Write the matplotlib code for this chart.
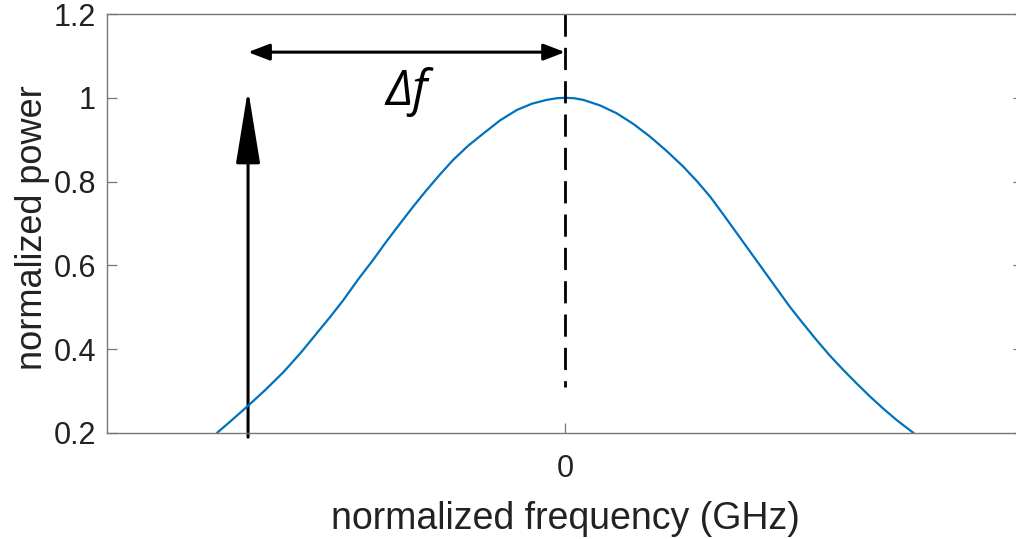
import matplotlib
matplotlib.use("Agg")
import matplotlib.pyplot as plt
from matplotlib.patches import FancyArrowPatch

plt.rcParams['font.family'] = ['Liberation Sans', 'DejaVu Sans']
plt.rcParams['lines.scale_dashes'] = False

# Normalized spectrum: frequency offset vs. normalized power
freq = [-0.760, -0.725, -0.692, -0.655, -0.615, -0.578, -0.542, -0.512,
        -0.484, -0.452, -0.419, -0.390, -0.360, -0.331, -0.302, -0.273,
        -0.244, -0.211, -0.178, -0.142, -0.105, -0.072, -0.040, -0.018,
        0.0, 0.020, 0.040, 0.076, 0.113, 0.150, 0.186, 0.222, 0.258,
        0.288, 0.317, 0.346, 0.375, 0.404, 0.433, 0.462, 0.491, 0.520,
        0.549, 0.578, 0.608, 0.637, 0.666, 0.695, 0.724, 0.743, 0.761]
power = [0.200, 0.233, 0.265, 0.302, 0.345, 0.390, 0.438, 0.478,
         0.517, 0.566, 0.613, 0.657, 0.700, 0.741, 0.780, 0.817,
         0.852, 0.886, 0.915, 0.946, 0.971, 0.986, 0.995, 0.999,
         1.000, 0.999, 0.995, 0.982, 0.963, 0.937, 0.907, 0.873, 0.836,
         0.801, 0.764, 0.721, 0.677, 0.633, 0.589, 0.545, 0.501, 0.461,
         0.422, 0.385, 0.350, 0.318, 0.287, 0.258, 0.231, 0.215, 0.200]

x_ticks = [0]
x_tick_labels = ['0']
y_ticks = [0.2, 0.4, 0.6, 0.8, 1.0, 1.2]
y_tick_labels = ['0.2', '0.4', '0.6', '0.8', '1', '1.2']

# Annotation geometry (data units)
carrier_x = -0.692       # position of the single carrier line
carrier_top = 1.02
center_x = 0.0           # spectrum centre
delta_y = 1.109          # height of the frequency-offset arrow
dash_bottom = 0.31

fig = plt.figure(figsize=(10.16, 5.39), dpi=100)
ax = fig.add_axes([0.1053, 0.1967, 0.9016, 0.7773])

ax.plot(freq, power, color='#0072BD', lw=1.6, solid_capstyle='round',
        solid_joinstyle='round')

ax.set_xlim(-1.0, 1.0)
ax.set_ylim(0.2, 1.2)
ax.set_xticks(x_ticks)
ax.set_xticklabels(x_tick_labels)
ax.set_yticks(y_ticks)
ax.set_yticklabels(y_tick_labels)

spine_col = '#777777'
for s in ax.spines.values():
    s.set_color(spine_col)
    s.set_linewidth(1.0)

ax.tick_params(axis='both', direction='in', length=7, width=0.9,
               color=spine_col, labelcolor='#222222', labelsize=22,
               top=True, right=True)
ax.tick_params(axis='x', pad=15)
ax.tick_params(axis='y', pad=8)

ax.set_xlabel('normalized frequency (GHz)', fontsize=27, color='#222222')
ax.set_ylabel('normalized power', fontsize=26, color='#222222')
ax.xaxis.set_label_coords(0.5, -0.163)
ax.yaxis.set_label_coords(-0.062, 0.49)

# Dashed marker at the spectrum centre
ax.plot([center_x, center_x], [1.2, dash_bottom], color='black', lw=2.0,
        dashes=(16, 8), dash_capstyle='butt', clip_on=False)

# Carrier arrow
carrier = FancyArrowPatch((carrier_x, 0.19), (carrier_x, carrier_top),
                          arrowstyle='-|>,head_length=46,head_width=7.5',
                          mutation_scale=1, lw=2.2, color='black',
                          shrinkA=0, shrinkB=0, clip_on=False)
ax.add_patch(carrier)

# Frequency offset arrow
offset = FancyArrowPatch((carrier_x, delta_y), (center_x, delta_y),
                         arrowstyle='<|-|>,head_length=13,head_width=5',
                         mutation_scale=1, lw=2.2, color='black',
                         shrinkA=0, shrinkB=0, clip_on=False)
ax.add_patch(offset)

ax.text(-0.345, 1.014, 'Δf', fontsize=35, style='italic',
        family=['Open Sans', 'DejaVu Sans'], ha='center', va='center',
        color='black')

fig.savefig('out.png', dpi=100)
